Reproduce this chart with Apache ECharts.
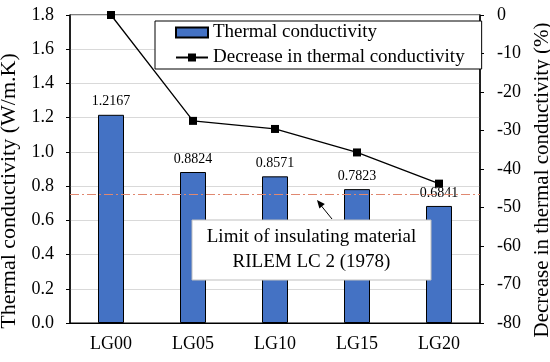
<!DOCTYPE html>
<html>
<head>
<meta charset="utf-8">
<script src="https://cdn.jsdelivr.net/npm/echarts@6/dist/echarts.min.js"></script>
<style>html,body{margin:0;padding:0;background:#fff;}#c{width:550px;height:362px;}</style>
</head>
<body>
<div id="c"></div>
<script>
const categories = ['LG00', 'LG05', 'LG10', 'LG15', 'LG20'];
const conductivity = [1.2167, 0.8824, 0.8571, 0.7823, 0.6841];
const decrease = [0, -27.5, -29.6, -35.7, -43.8];
const limitValue = 0.75;
const leftTicks = { min: 0, max: 1.8, interval: 0.2 };
const rightTicks = { min: -80, max: 0, interval: 10 };

const FONT = '"Liberation Serif", "Times New Roman", serif';
const chart = echarts.init(document.getElementById('c'), null, { renderer: 'canvas' });

chart.setOption({
  animation: false,
  backgroundColor: '#fff',
  textStyle: { fontFamily: FONT, color: '#000' },
  grid: { left: 70, right: 70, top: 15, bottom: 39, containLabel: false, outerBoundsMode: 'none', show: true, borderColor: '#000', borderWidth: 1, backgroundColor: 'transparent' },
  legend: {
    left: 155, top: 21,
    orient: 'vertical',
    backgroundColor: '#fff',
    borderColor: '#000', borderWidth: 1,
    padding: [2, 17, 2, 20],
    itemGap: 6,
    itemWidth: 32, itemHeight: 10,
    textStyle: { fontFamily: FONT, fontSize: 19, color: '#000' },
    data: [
      { name: 'Thermal conductivity', icon: 'rect' },
      { name: 'Decrease in thermal conductivity' }
    ]
  },
  xAxis: {
    type: 'category',
    data: categories,
    axisLine: { lineStyle: { color: '#000', width: 1 } },
    axisTick: { show: false },
    axisLabel: { fontFamily: FONT, fontSize: 18, color: '#000', margin: 12 }
  },
  yAxis: [
    {
      type: 'value', min: leftTicks.min, max: leftTicks.max, interval: leftTicks.interval,
      name: 'Thermal conductivity (W/m.K)', nameLocation: 'middle', nameGap: 44,
      nameTextStyle: { fontFamily: FONT, fontSize: 22, color: '#000', padding: [0, 44, 0, 0] },
      axisLine: { show: true, lineStyle: { color: '#000', width: 1.5 } },
      axisTick: { show: true, inside: false, length: 4, lineStyle: { color: '#000' } },
      axisLabel: { fontFamily: FONT, fontSize: 18, color: '#000', margin: 16, formatter: v => v.toFixed(1) },
      splitLine: { show: true, lineStyle: { color: '#d9d9d9', width: 1 } }
    },
    {
      type: 'value', min: rightTicks.min, max: rightTicks.max, interval: rightTicks.interval,
      position: 'right',
      name: 'Decrease in thermal conductivity (%)', nameLocation: 'middle', nameGap: 50,
      nameRotate: 90,
      nameTextStyle: { fontFamily: FONT, fontSize: 21, color: '#000', padding: [0, 22, 0, 0] },
      axisLine: { show: true, lineStyle: { color: '#000', width: 1.5 } },
      axisTick: { show: true, inside: false, length: 4, lineStyle: { color: '#000' } },
      axisLabel: { fontFamily: FONT, fontSize: 18, color: '#000', margin: 17 },
      splitLine: { show: false }
    }
  ],
  series: [
    {
      name: 'Thermal conductivity',
      type: 'bar',
      yAxisIndex: 0,
      data: conductivity,
      barWidth: 26,
      itemStyle: { color: '#4472C4', borderColor: '#000', borderWidth: 1 },
      label: { show: true, position: 'top', distance: 6, fontFamily: FONT, fontSize: 14, color: '#000', formatter: p => p.value.toFixed(4) },
      markLine: {
        silent: true, symbol: 'none',
        label: { show: false },
        lineStyle: { color: '#e08870', width: 1, type: [9, 3, 2, 3] },
        data: [{ yAxis: limitValue }]
      },
      z: 2
    },
    {
      name: 'Decrease in thermal conductivity',
      type: 'line',
      yAxisIndex: 1,
      data: decrease,
      symbol: 'rect', symbolSize: 8,
      itemStyle: { color: '#000' },
      lineStyle: { color: '#000', width: 1.3 },
      z: 3
    }
  ],
  graphic: [
    {
      type: 'line', z: 100,
      shape: { x1: 332, y1: 219, x2: 319, y2: 203 },
      style: { stroke: '#000', lineWidth: 1 }
    },
    {
      type: 'polygon', z: 100,
      shape: { points: [[317, 200], [324.8, 204.0], [319.4, 208.4]] },
      style: { fill: '#000' }
    },
    {
      type: 'rect', z: 100,
      shape: { x: 192, y: 220, width: 239, height: 60 },
      style: { fill: '#fff', stroke: '#bfbfbf', lineWidth: 1 }
    },
    {
      type: 'text', z: 101,
      x: 311.5, y: 250,
      style: {
        text: 'Limit of insulating material\nRILEM LC 2 (1978)',
        font: '19px ' + FONT,
        fill: '#000',
        align: 'center', verticalAlign: 'middle',
        lineHeight: 25
      }
    }
  ]
});
</script>
</body>
</html>
